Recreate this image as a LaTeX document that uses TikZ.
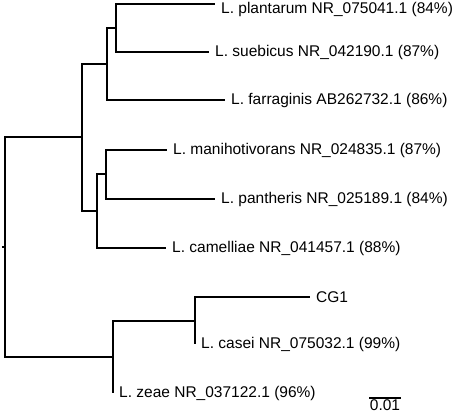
\documentclass[tikz,border=0pt]{standalone}
\usepackage{fontspec}
\setmainfont{Liberation Sans}
\usepackage{tikz}

\tikzset{
  leaf/.style={anchor=west, inner xsep=6pt, inner ysep=0pt},
  branch/.style={line width=1.1pt, line join=miter}
}

\begin{document}
\begin{tikzpicture}[x=1pt, y=-1pt, every node/.style={font=\fontsize{15.5}{18}\selectfont}]
    \useasboundingbox (0,0) rectangle (454,414);
    % internal nodes
    \coordinate (root) at (5,247);
    \coordinate (a) at (82,137);
    \coordinate (b) at (107,64);
    \coordinate (c) at (116,28);
    \coordinate (d) at (97,211);
    \coordinate (e) at (106,174);
    \coordinate (f) at (113,357);
    \coordinate (g) at (195,321);
    % top tip sits above its label
    \coordinate (tplan) at (215,4);
    % leaves
    \node[leaf, yshift=-5pt] (plan) at (tplan) {L. plantarum NR\_075041.1 (84\%)};
    \node[leaf] (sueb) at (209,52) {L. suebicus NR\_042190.1 (87\%)};
    \node[leaf] (farr) at (225,100) {L. farraginis AB262732.1 (86\%)};
    \node[leaf] (mani) at (167,150) {L. manihotivorans NR\_024835.1 (87\%)};
    \node[leaf] (pant) at (215,199) {L. pantheris NR\_025189.1 (84\%)};
    \node[leaf] (came) at (166,248) {L. camelliae NR\_041457.1 (88\%)};
    \node[leaf] (cg) at (310,297) {CG1};
    \node[leaf] (case) at (195,344) {L. casei NR\_075032.1 (99\%)};
    \node[leaf] (zeae) at (113,393) {L. zeae NR\_037122.1 (96\%)};
    % branches
    \draw[branch] (root) -- ++(-3,0);
    \foreach \p/\q in {root/a, root/f, a/b, a/d, b/c, d/e, f/g, c/tplan}
        \draw[branch] (\p) |- (\q);
    \foreach \p/\q in {c/sueb, b/farr, e/mani, e/pant, d/came, g/cg, g/case, f/zeae}
        \draw[branch] (\p) |- (\q.west);
    % scale bar
    \coordinate (sbl) at (369,398);
    \coordinate (sbr) at (401,398);
    \draw[branch] (sbl) -- (sbr) node[midway, below, inner sep=1pt] (sblab) {0.01};
\end{tikzpicture}
\end{document}
